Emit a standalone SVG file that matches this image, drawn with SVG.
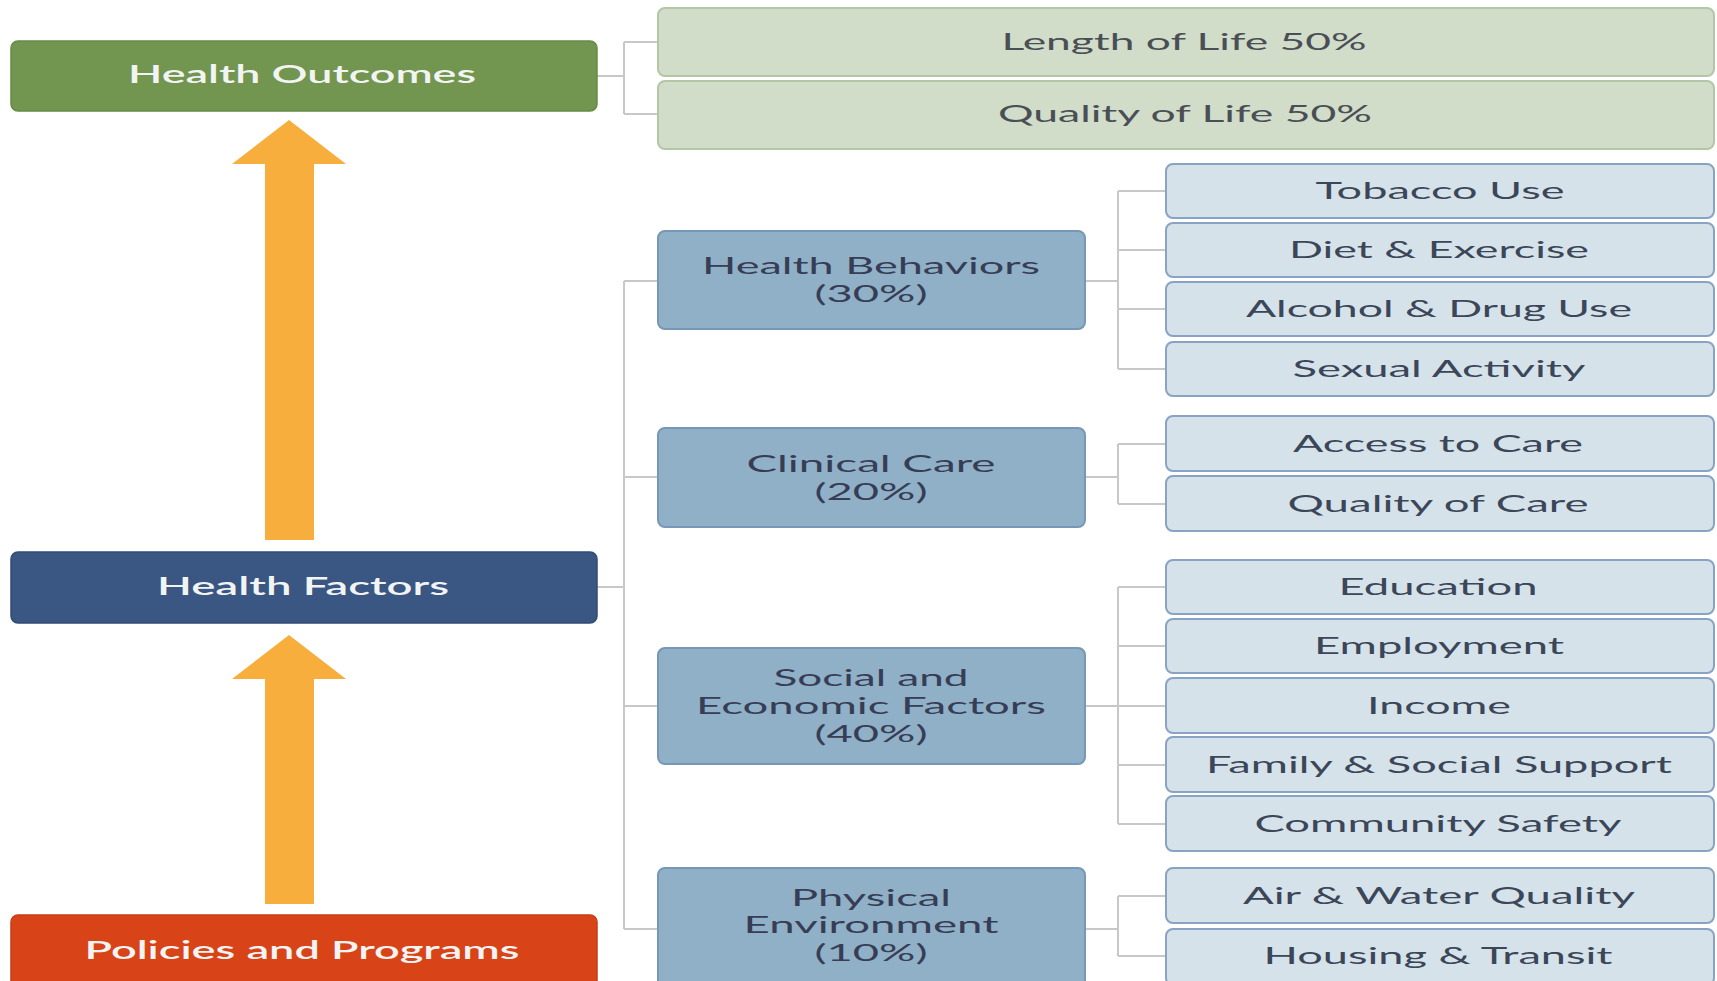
<svg xmlns="http://www.w3.org/2000/svg" width="1717" height="981" viewBox="0 0 1717 981">
<defs>
<style>
text{font-family:Lato,"Open Sans","Liberation Sans",sans-serif;text-anchor:middle;}
.hdr{font-size:24px;fill:#f2f4f4;font-weight:600;}
.grn{fill:#d1dcc9;stroke:#b3c6a5;stroke-width:2;}
.gtx{font-size:24px;fill:#4a4f55;}
.mid{fill:#8fb0c6;stroke:#7897b6;stroke-width:2;}
.mtx{font-size:24px;fill:#373d55;}
.sub{fill:#d5e2ea;stroke:#88a3c4;stroke-width:2;}
.stx{font-size:24px;fill:#3b4658;}
.con{fill:none;stroke:#c8c8c8;stroke-width:2;}
.arr{fill:#f7ae3c;}
</style>
</defs>
<rect width="1717" height="981" fill="#ffffff"/>

<g id="connectors">
<path class="con" d="M597 76 H624 M624 42 V114 M624 42 H658 M624 114 H658"/>
<path class="con" d="M597 587 H624 M624 281 V929 M624 281 H658 M624 477 H658 M624 706 H658 M624 929 H658"/>
<path class="con" d="M1085 281 H1118 M1118 191 V369 M1118 191 H1166 M1118 250 H1166 M1118 309 H1166 M1118 369 H1166"/>
<path class="con" d="M1085 477 H1118 M1118 444 V504 M1118 444 H1166 M1118 504 H1166"/>
<path class="con" d="M1085 706 H1118 M1118 587 V824 M1118 587 H1166 M1118 646 H1166 M1118 706 H1166 M1118 765 H1166 M1118 824 H1166"/>
<path class="con" d="M1085 929 H1118 M1118 896 V956 M1118 896 H1166 M1118 956 H1166"/>
</g>

<g id="arrows">
<polygon class="arr" points="289,120 346,164 314,164 314,540 265,540 265,164 232,164"/>
<polygon class="arr" points="289,635 346,679 314,679 314,904 265,904 265,679 232,679"/>
</g>

<g id="health-outcomes">
<rect x="11" y="41" width="586" height="70" rx="7" fill="#72964f" stroke="#668a46" stroke-width="1.5"/>
<text class="hdr" x="302" y="83" textLength="348" lengthAdjust="spacingAndGlyphs">Health Outcomes</text>
</g>
<g id="length-of-life">
<rect class="grn" x="658" y="8" width="1056" height="68" rx="7"/>
<text class="gtx" x="1184" y="50" textLength="365" lengthAdjust="spacingAndGlyphs">Length of Life 50%</text>
</g>
<g id="quality-of-life">
<rect class="grn" x="658" y="81" width="1056" height="68" rx="7"/>
<text class="gtx" x="1185" y="122" textLength="374" lengthAdjust="spacingAndGlyphs">Quality of Life 50%</text>
</g>

<g id="health-factors">
<rect x="11" y="552" width="586" height="71" rx="7" fill="#3a5683" stroke="#324b75" stroke-width="1.5"/>
<text class="hdr" x="303" y="595" textLength="292" lengthAdjust="spacingAndGlyphs">Health Factors</text>
</g>
<g id="policies-and-programs">
<rect x="11" y="915" width="586" height="90" rx="7" fill="#d84318" stroke="#c63c15" stroke-width="1.5"/>
<text class="hdr" x="302" y="959" textLength="435" lengthAdjust="spacingAndGlyphs">Policies and Programs</text>
</g>

<g id="health-behaviors">
<rect class="mid" x="658" y="231" width="427" height="98" rx="7"/>
<text class="mtx" x="871" y="274" textLength="338" lengthAdjust="spacingAndGlyphs">Health Behaviors</text>
<text class="mtx" x="871" y="302" textLength="113" lengthAdjust="spacingAndGlyphs">(30%)</text>
</g>
<g id="clinical-care">
<rect class="mid" x="658" y="428" width="427" height="99" rx="7"/>
<text class="mtx" x="871" y="472" textLength="249" lengthAdjust="spacingAndGlyphs">Clinical Care</text>
<text class="mtx" x="871" y="500" textLength="113" lengthAdjust="spacingAndGlyphs">(20%)</text>
</g>
<g id="social-economic">
<rect class="mid" x="658" y="648" width="427" height="116" rx="7"/>
<text class="mtx" x="871" y="686" textLength="195" lengthAdjust="spacingAndGlyphs">Social and</text>
<text class="mtx" x="871" y="714" textLength="350" lengthAdjust="spacingAndGlyphs">Economic Factors</text>
<text class="mtx" x="871" y="742" textLength="113" lengthAdjust="spacingAndGlyphs">(40%)</text>
</g>
<g id="physical-environment">
<rect class="mid" x="658" y="868" width="427" height="130" rx="7"/>
<text class="mtx" x="871" y="906" textLength="160" lengthAdjust="spacingAndGlyphs">Physical</text>
<text class="mtx" x="871" y="933" textLength="255" lengthAdjust="spacingAndGlyphs">Environment</text>
<text class="mtx" x="871" y="961" textLength="113" lengthAdjust="spacingAndGlyphs">(10%)</text>
</g>

<g id="tobacco-use">
<rect class="sub" x="1166" y="164" width="548" height="54" rx="7"/>
<text class="stx" x="1440" y="199" textLength="249" lengthAdjust="spacingAndGlyphs">Tobacco Use</text>
</g>
<g id="diet-exercise">
<rect class="sub" x="1166" y="223" width="548" height="54" rx="7"/>
<text class="stx" x="1439" y="258" textLength="300" lengthAdjust="spacingAndGlyphs">Diet &amp; Exercise</text>
</g>
<g id="alcohol-drug-use">
<rect class="sub" x="1166" y="282" width="548" height="54" rx="7"/>
<text class="stx" x="1439" y="317" textLength="386" lengthAdjust="spacingAndGlyphs">Alcohol &amp; Drug Use</text>
</g>
<g id="sexual-activity">
<rect class="sub" x="1166" y="342" width="548" height="54" rx="7"/>
<text class="stx" x="1439" y="377" textLength="293" lengthAdjust="spacingAndGlyphs">Sexual Activity</text>
</g>

<g id="access-to-care">
<rect class="sub" x="1166" y="416" width="548" height="55" rx="7"/>
<text class="stx" x="1438" y="452" textLength="290" lengthAdjust="spacingAndGlyphs">Access to Care</text>
</g>
<g id="quality-of-care">
<rect class="sub" x="1166" y="476" width="548" height="55" rx="7"/>
<text class="stx" x="1438" y="512" textLength="301" lengthAdjust="spacingAndGlyphs">Quality of Care</text>
</g>

<g id="education">
<rect class="sub" x="1166" y="560" width="548" height="54" rx="7"/>
<text class="stx" x="1438" y="595" textLength="199" lengthAdjust="spacingAndGlyphs">Education</text>
</g>
<g id="employment">
<rect class="sub" x="1166" y="619" width="548" height="54" rx="7"/>
<text class="stx" x="1439" y="654" textLength="250" lengthAdjust="spacingAndGlyphs">Employment</text>
</g>
<g id="income">
<rect class="sub" x="1166" y="678" width="548" height="55" rx="7"/>
<text class="stx" x="1439" y="714" textLength="144" lengthAdjust="spacingAndGlyphs">Income</text>
</g>
<g id="family-social-support">
<rect class="sub" x="1166" y="737" width="548" height="55" rx="7"/>
<text class="stx" x="1439" y="773" textLength="466" lengthAdjust="spacingAndGlyphs">Family &amp; Social Support</text>
</g>
<g id="community-safety">
<rect class="sub" x="1166" y="796" width="548" height="55" rx="7"/>
<text class="stx" x="1438" y="832" textLength="367" lengthAdjust="spacingAndGlyphs">Community Safety</text>
</g>

<g id="air-water-quality">
<rect class="sub" x="1166" y="868" width="548" height="55" rx="7"/>
<text class="stx" x="1439" y="904" textLength="392" lengthAdjust="spacingAndGlyphs">Air &amp; Water Quality</text>
</g>
<g id="housing-transit">
<rect class="sub" x="1166" y="929" width="548" height="56" rx="7"/>
<text class="stx" x="1438" y="964" textLength="349" lengthAdjust="spacingAndGlyphs">Housing &amp; Transit</text>
</g>
</svg>
